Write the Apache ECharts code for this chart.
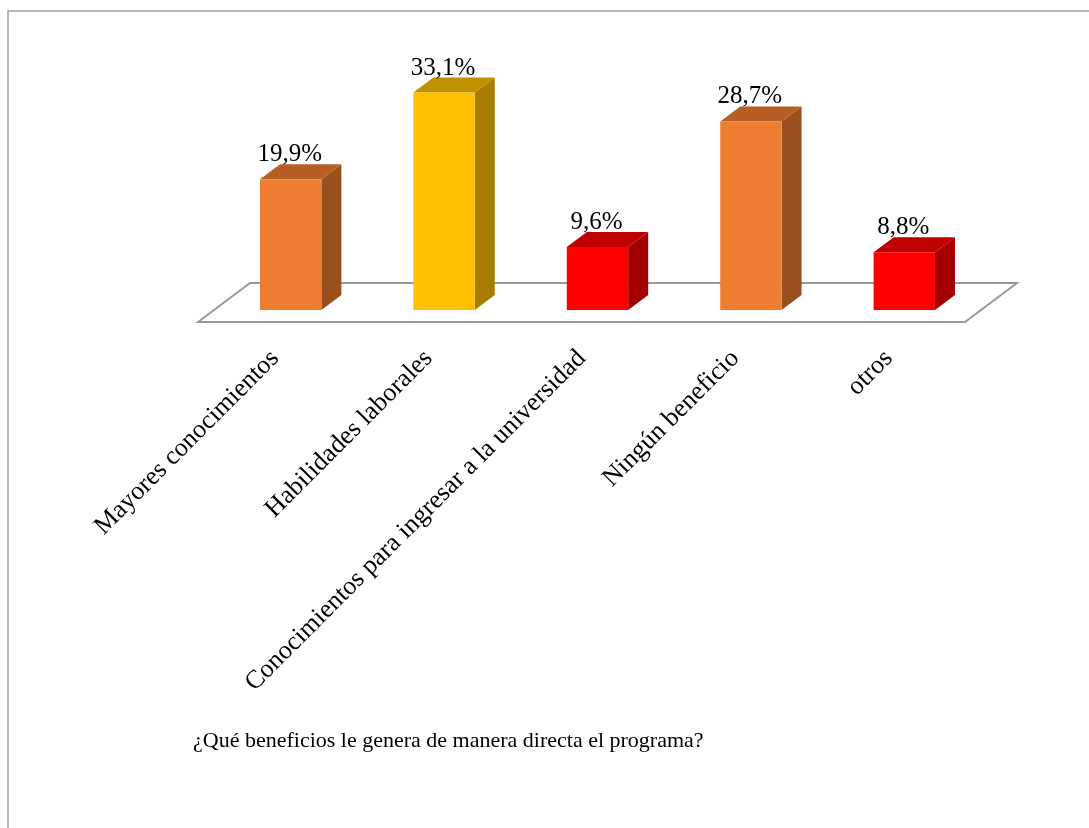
<!DOCTYPE html>
<html>
<head>
<meta charset="utf-8">
<script src="https://cdn.jsdelivr.net/npm/echarts@6/dist/echarts.min.js"></script>
<style>
    html, body { margin: 0; padding: 0; background: #fff; }
    #grafico { width: 1089px; height: 828px; }
</style>
</head>
<body>
<div id="grafico"></div>
<script>
// datos
const categorias = [
    "Mayores conocimientos",
    "Habilidades laborales",
    "Conocimientos para ingresar a la universidad",
    "Ningún beneficio",
    "otros",
]
const porcentajes = [19.9, 33.1, 9.6, 28.7, 8.8]
const titulo = "¿Qué beneficios le genera de manera directa el programa?"

// colores de cada barra: frente, lado, tapa
const coloresFrente = ["#ED7D31", "#FFC000", "#FF0000", "#ED7D31", "#FF0000"]
const coloresLado = ["#9A4F1E", "#A67D00", "#A50000", "#9A4F1E", "#A50000"]
const coloresTapa = ["#B65E24", "#BF9000", "#C00000", "#B65E24", "#C00000"]

const FONT = "'Liberation Serif', 'Times New Roman', serif"
const DX = 20 // profundidad 3D
const DY = -15

const fmt = v => v.toFixed(1).replace(".", ",") + "%"

var myChart = echarts.init(document.getElementById("grafico"), null, { renderer: "canvas" })

function renderPiso(params, api) {
    const band = api.size([1, 0])[0]
    const a = api.coord([0, 0])
    const b = api.coord([categorias.length - 1, 0])
    const xl = a[0] - band / 2
    const xr = b[0] + band / 2
    const y = a[1]
    return {
        type: "polygon",
        shape: {
            points: [
                [xl - 16, y + 12],
                [xl + 36, y - 27],
                [xr + 36, y - 27],
                [xr - 16, y + 12],
            ],
        },
        style: { fill: "#fff", stroke: "#999", lineWidth: 2 },
    }
}

function renderBarra(params, api) {
    const i = api.value(0)
    const v = api.value(1)
    const top = api.coord([i, v])
    const base = api.coord([i, 0])
    const w = api.size([1, 0])[0] * 0.4
    const x0 = top[0] - w / 2
    const x1 = top[0] + w / 2
    const y0 = top[1]
    const y1 = base[1]
    return {
        type: "group",
        children: [
            {
                type: "polygon",
                shape: { points: [[x1, y0], [x1 + DX, y0 + DY], [x1 + DX, y1 + DY], [x1, y1]] },
                style: { fill: coloresLado[i] },
            },
            {
                type: "polygon",
                shape: { points: [[x0, y0], [x0 + DX, y0 + DY], [x1 + DX, y0 + DY], [x1, y0]] },
                style: { fill: coloresTapa[i] },
            },
            {
                type: "rect",
                shape: { x: x0, y: y0, width: w, height: y1 - y0 },
                style: { fill: coloresFrente[i] },
            },
            {
                type: "text",
                x: top[0] - 1,
                y: y0 + DY + 3,
                style: {
                    text: fmt(v),
                    font: "25px " + FONT,
                    fill: "#000",
                    align: "center",
                    verticalAlign: "bottom",
                },
            },
        ],
    }
}

var option = {
    backgroundColor: "#fff",
    animation: false,
    graphic: [
        {
            type: "rect",
            shape: { x: 8, y: 11, width: 1200, height: 900 },
            style: { fill: "none", stroke: "#A0A0A0", lineWidth: 1.5 },
            z: 0,
        },
        {
            type: "text",
            left: 193,
            top: 730,
            style: {
                text: titulo,
                font: "22px " + FONT,
                fill: "#000",
            },
        },
    ],
    grid: {
        left: 214,
        right: 108,
        top: 80,
        bottom: 518,
    },
    xAxis: {
        type: "category",
        data: categorias,
        axisLine: { show: false },
        axisTick: { show: false },
        axisLabel: {
            interval: 0,
            rotate: 45,
            margin: 29,
            fontFamily: FONT,
            fontSize: 26,
            color: "#000",
            padding: [0, 22, 0, 0],
        },
        splitLine: { show: false },
    },
    yAxis: {
        type: "value",
        min: 0,
        max: 35,
        show: false,
    },
    series: [
        {
            type: "custom",
            renderItem: renderPiso,
            data: [[0, 0]],
            z: 1,
            silent: true,
        },
        {
            type: "custom",
            renderItem: renderBarra,
            data: porcentajes.map((v, i) => [i, v]),
            z: 2,
        },
    ],
}

myChart.setOption(option, true)
</script>
</body>
</html>
